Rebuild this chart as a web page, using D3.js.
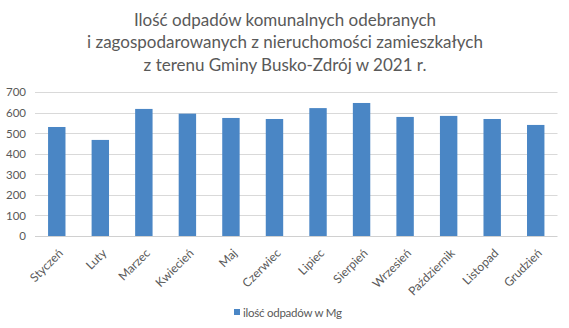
<!DOCTYPE html>
<html><head><meta charset="utf-8">
<script src="https://cdn.jsdelivr.net/npm/d3@7"></script>
<style>body{margin:0;background:#fff}svg{display:block}</style>
</head><body>
<script>
const months = ["Styczeń","Luty","Marzec","Kwiecień","Maj","Czerwiec","Lipiec","Sierpień","Wrzesień","Październik","Listopad","Grudzień"];
const values = [531,468,619,596,575,570,623,648,580,585,570,541];
const yTicks = [0,100,200,300,400,500,600,700];
const titleLines = ["Ilość odpadów komunalnych odebranych","i zagospodarowanych z nieruchomości zamieszkałych","z terenu Gminy Busko-Zdrój w 2021 r."];
const seriesName = "ilość odpadów w Mg";

const W=569,H=328;
const font = "Lato, 'Open Sans', sans-serif";
const svg = d3.select("body").append("svg").attr("width",W).attr("height",H);
svg.append("rect").attr("width",W).attr("height",H).attr("fill","#fff");
const L=35,R=557.5,T=92.3,B=236;
const x = d3.scaleBand().domain(months).range([L,R]).paddingInner(0.6).paddingOuter(0.3);
const y = d3.scaleLinear().domain([0,700]).range([B,T]);

svg.append("g").selectAll("text").data(titleLines).join("text")
  .attr("x",285).attr("y",(d,i)=>25.5+i*22.5).attr("text-anchor","middle")
  .attr("fill","#595959").style("font-family",font).style("font-size","17px").text(d=>d);

svg.append("g").selectAll("line").data(yTicks).join("line")
  .attr("x1",L).attr("x2",R).attr("y1",d=>Math.round(y(d))+0.5).attr("y2",d=>Math.round(y(d))+0.5)
  .attr("stroke",d=>d===0?"#d0d0d0":"#d9d9d9").attr("stroke-width",1);

const yAxis = d3.axisLeft(y).tickValues(yTicks).tickSize(0).tickPadding(0);
const ga = svg.append("g").attr("transform",`translate(${L-9},0)`).call(yAxis);
ga.select(".domain").remove();
ga.selectAll("text").attr("fill","#595959").style("font-family",font).style("font-size","11.5px");

svg.append("g").selectAll("rect").data(values).join("rect")
  .attr("x",(d,i)=>x(months[i])).attr("width",x.bandwidth())
  .attr("y",d=>y(d)).attr("height",d=>B-y(d)).attr("fill","#4a86c5");

const xAxis = d3.axisBottom(x).tickSize(0).tickPadding(0);
const gx = svg.append("g").attr("transform",`translate(0,${B})`).call(xAxis);
gx.select(".domain").remove();
gx.selectAll("text").attr("text-anchor","end")
  .attr("transform","translate(4,15) rotate(-45)").attr("dy","0.35em").attr("y",0)
  .attr("fill","#595959").style("font-family",font).style("font-size","12px");

const lg = svg.append("g");
lg.append("rect").attr("x",234).attr("y",309).attr("width",6).attr("height",6).attr("fill","#4a86c5");
lg.append("text").attr("x",243).attr("y",317).attr("fill","#595959").attr("textLength",99).attr("lengthAdjust","spacing")
  .style("font-family",font).style("font-size","11.5px").text(seriesName);
</script>
</body></html>
